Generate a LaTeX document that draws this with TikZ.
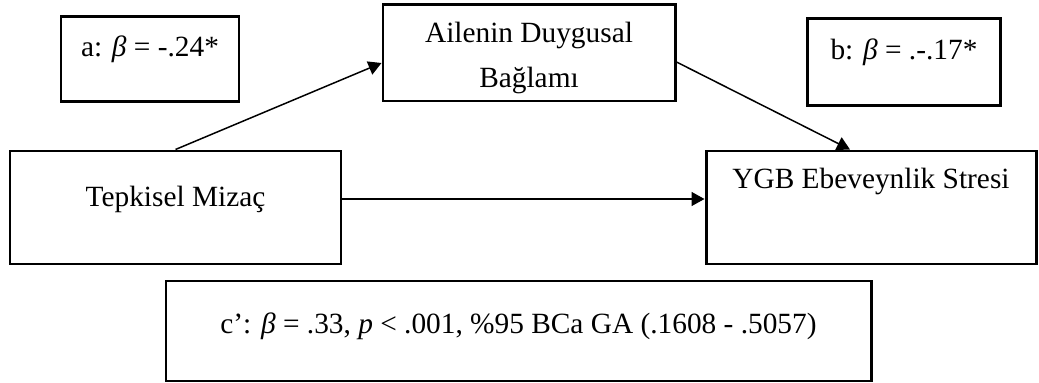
\documentclass[tikz,border=0pt]{standalone}
\usepackage{fontspec}
\setmainfont{Liberation Serif}
\usepackage{tikz}
\usetikzlibrary{arrows.meta, positioning, calc}

\begin{document}
\begin{tikzpicture}[
  font=\fontsize{16.7}{25.5}\selectfont,
  varbox/.style={draw=black, line width=1.7pt, inner sep=0pt, align=center},
  coefbox/.style={draw=black, line width=1.7pt, inner sep=0pt, align=center},
  a/.style={-{Triangle[length=.26cm, width=.28cm]}, draw=black, line width=.85pt}
]
\useasboundingbox (0,0) rectangle (20.78,-7.66);

\node[coefbox, minimum width=3.56cm, text height=.81cm, text depth=.89cm] (apath) at (3.0,-1.18) {a: \textit{β} = -.24*};
\node[varbox, minimum width=5.84cm, text height=1.65cm, text depth=.27cm] (family) at (10.58,-1.06) {Ailenin Duygusal\\Bağlamı};
\node[coefbox, minimum width=3.87cm, text height=.82cm, text depth=.91cm] (bpath) at (18.08,-1.24) {b: \textit{β} = .-.17*};

\node[varbox, minimum width=6.62cm, text height=1.12cm, text depth=1.14cm] (temper) at (3.51,-4.15) {Tepkisel Mizaç};
\node[varbox, minimum width=6.6cm, text height=.76cm, text depth=1.5cm] (stress) at (17.42,-4.15) {YGB Ebeveynlik Stresi};

\node[coefbox, minimum width=14.1cm, text height=1.06cm, text depth=.94cm] (cpath) at (10.37,-6.62) {c’: \textit{β} = .33, \textit{p} < .001, \%95 BCa GA (.1608 - .5057)};

\draw[a] (temper.north) -- ([yshift=-.2cm]family.west);
\draw[a] ([yshift=-.18cm]family.east) -- ([xshift=-.42cm]stress.north);
\draw[a] ([yshift=.17cm]temper.east) -- ([yshift=.17cm]stress.west);
\end{tikzpicture}
\end{document}
